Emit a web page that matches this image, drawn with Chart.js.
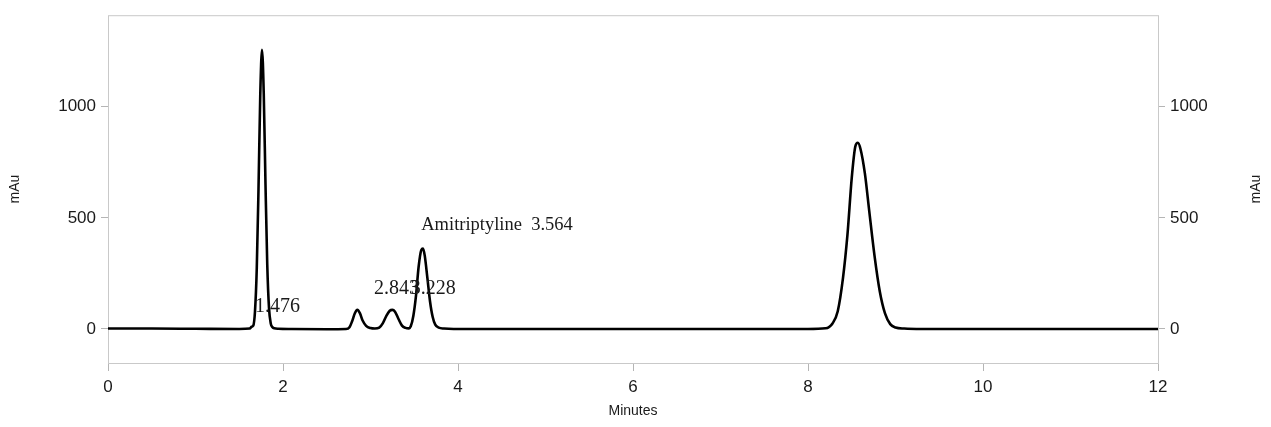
<!DOCTYPE html>
<html>
<head>
<meta charset="utf-8">
<script src="https://cdn.jsdelivr.net/npm/chart.js@4.4.1/dist/chart.umd.min.js"></script>
<style>
html,body{margin:0;padding:0;background:#fff;}
#wrap{width:1271px;height:427px;position:relative;}
</style>
</head>
<body>
<div id="wrap"><canvas id="c" width="1271" height="427"></canvas></div>
<script>
// Retention time (minutes) and detector response (mAu)
const times = [
  0, 0.5, 1.0, 1.5, 1.62, 1.64, 1.66, 1.68, 1.70, 1.72, 1.74, 1.76, 1.78, 1.80, 1.82, 1.84, 1.86, 1.88, 1.90, 1.95, 2.1,
  2.5, 2.72, 2.76, 2.79, 2.82, 2.85, 2.88, 2.91, 2.95, 3.00, 3.05,
  3.10, 3.14, 3.18, 3.22, 3.25, 3.28, 3.32, 3.36, 3.40, 3.44,
  3.46, 3.49, 3.52, 3.55, 3.58, 3.60, 3.62, 3.65, 3.68, 3.71, 3.74, 3.78, 3.84, 3.95,
  4.5, 6.0, 8.0, 8.20, 8.28, 8.34, 8.40, 8.45, 8.50, 8.54, 8.57, 8.60, 8.65, 8.70, 8.76, 8.82, 8.88, 8.94, 9.00, 9.10, 9.30, 10.0, 11.0, 12.0
];
const response = [
  2, 2, 1, 0, 2, 10, 15, 80, 270, 630, 1050, 1256, 1060, 650, 290, 95, 25, 8, 3, 1, 0,
  -1, 0, 8, 35, 70, 86, 70, 38, 14, 4, 2,
  6, 25, 58, 82, 86, 78, 45, 15, 5, 3,
  12, 60, 150, 280, 355, 362, 330, 230, 125, 55, 20, 6, 2, 0,
  0, 0, 0, 3, 25, 80, 230, 420, 680, 820, 838, 810, 700, 530, 330, 170, 70, 22, 7, 2, 0, 0, 0, 0
];
// Peak annotations: text, anchor time (left edge), anchor response (text middle), font size
const peakLabels = ["1.476", "2.843", "3.228", "Amitriptyline  3.564"];
const labelTimes = [1.68, 3.04, 3.46, 3.58];
const labelValues = [100, 183, 183, 466];
const labelSizes = [20, 20, 20, 18.5];

const xTicks = [0, 2, 4, 6, 8, 10, 12];
const yTicks = [0, 500, 1000];

const pts = times.map((t, i) => ({x: t, y: response[i]}));

const frame = {
  id: 'frame',
  beforeDatasetsDraw(chart) {
    const {ctx, chartArea: a} = chart;
    ctx.save();
    ctx.strokeStyle = '#c9c9c9';
    ctx.lineWidth = 1;
    ctx.strokeRect(a.left + 0.5, a.top + 0.5, a.right - a.left, a.bottom - a.top);
    ctx.restore();
  },
  afterDraw(chart) {
    const {ctx, scales} = chart;
    const x = scales.x, y = scales.y;
    ctx.save();
    ctx.fillStyle = '#1a1a1a';
    ctx.textBaseline = 'middle';
    ctx.textAlign = 'left';
    peakLabels.forEach((s, i) => {
      ctx.font = labelSizes[i] + 'px "Liberation Serif", "Times New Roman", serif';
      ctx.fillText(s, x.getPixelForValue(labelTimes[i]), y.getPixelForValue(labelValues[i]));
    });
    // axis titles
    ctx.font = '14px "Liberation Sans", Arial, sans-serif';
    ctx.textAlign = 'center';
    ctx.fillText('Minutes', (x.left + x.right) / 2, 411);
    const midY = (y.top + y.bottom) / 2;
    [15, 1256].forEach(px => {
      ctx.save();
      ctx.translate(px, midY);
      ctx.rotate(-Math.PI / 2);
      ctx.fillText('mAu', 0, 0);
      ctx.restore();
    });
    ctx.restore();
  }
};

const tickFont = {family: '"Liberation Sans", Arial, sans-serif', size: 17};
const plain = v => String(v);

new Chart(document.getElementById('c'), {
  type: 'line',
  data: {
    datasets: [{
      data: pts,
      borderColor: '#000',
      borderWidth: 2.6,
      pointRadius: 0,
      cubicInterpolationMode: 'monotone',
      fill: false
    }]
  },
  options: {
    responsive: false,
    animation: false,
    events: [],
    layout: {padding: {top: 6, left: 0, right: 0, bottom: 0}},
    plugins: {legend: {display: false}, tooltip: {enabled: false}},
    scales: {
      x: {
        type: 'linear', min: 0, max: 12,
        afterBuildTicks: s => { s.ticks = xTicks.map(v => ({value: v})); },
        afterFit: s => { s.height = 64; },
        grid: {display: true, drawOnChartArea: false, drawTicks: true, tickLength: 8, color: '#b5b5b5'},
        border: {display: false},
        ticks: {color: '#1a1a1a', font: tickFont, padding: 6, maxRotation: 0, callback: plain}
      },
      y: {
        position: 'left', min: -153, max: 1412,
        afterBuildTicks: s => { s.ticks = yTicks.map(v => ({value: v})); },
        afterFit: s => { s.width = 108; },
        grid: {display: true, drawOnChartArea: false, drawTicks: true, tickLength: 7, color: '#b5b5b5'},
        border: {display: false},
        ticks: {color: '#1a1a1a', font: tickFont, padding: 5, callback: plain}
      },
      y2: {
        position: 'right', min: -153, max: 1412,
        afterBuildTicks: s => { s.ticks = yTicks.map(v => ({value: v})); },
        afterFit: s => { s.width = 113; },
        grid: {display: true, drawOnChartArea: false, drawTicks: true, tickLength: 7, color: '#b5b5b5'},
        border: {display: false},
        ticks: {color: '#1a1a1a', font: tickFont, padding: 5, callback: plain}
      }
    }
  },
  plugins: [frame]
});
</script>
</body>
</html>
